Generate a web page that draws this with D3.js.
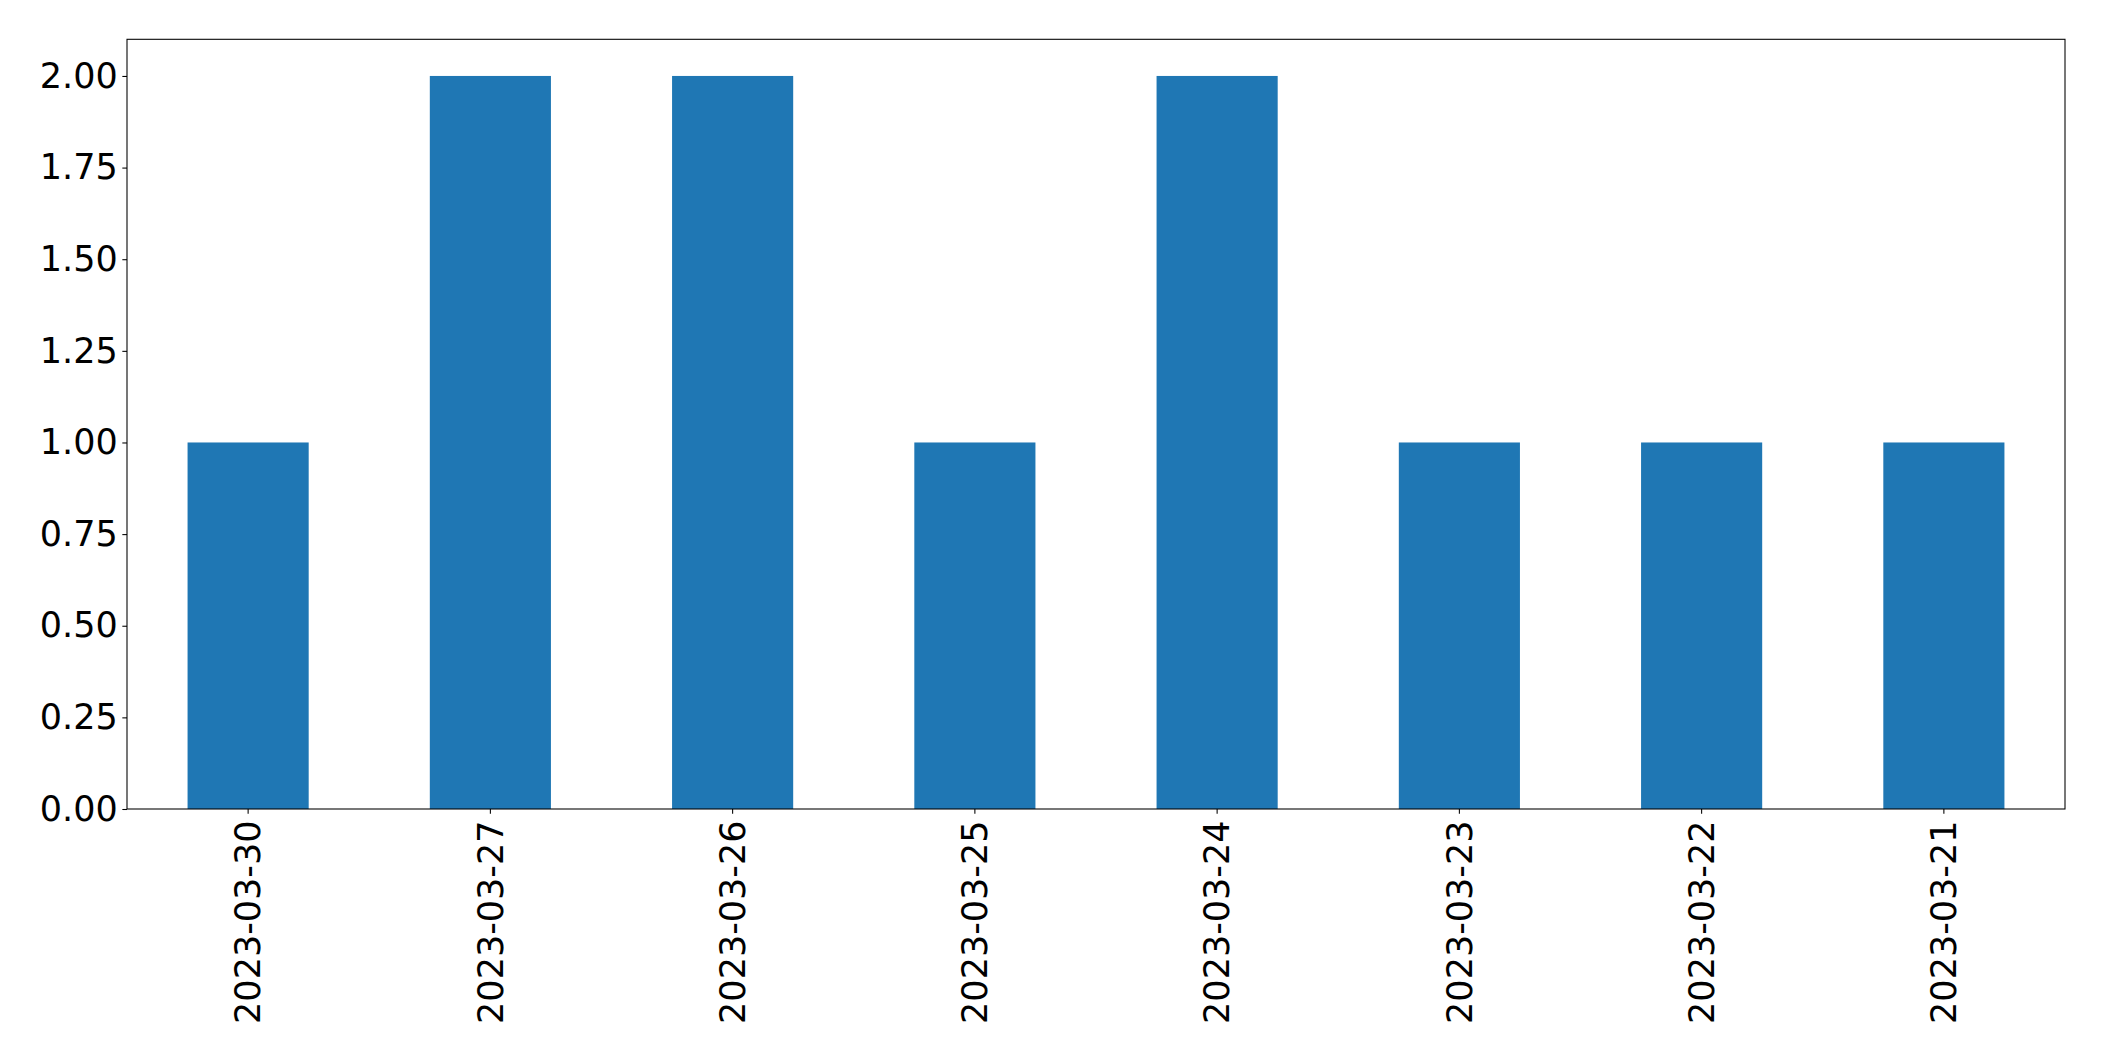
<!DOCTYPE html>
<html><head><meta charset="utf-8">
<script src="https://cdn.jsdelivr.net/npm/d3@7"></script>
<style>body{margin:0;background:#fff;} svg{display:block;}</style>
</head><body>
<script>
const categories = ["2023-03-30","2023-03-27","2023-03-26","2023-03-25","2023-03-24","2023-03-23","2023-03-22","2023-03-21"];
const values = [1,2,2,1,2,1,1,1];
const yTicks = [0,0.25,0.5,0.75,1,1.25,1.5,1.75,2];

const W = 2104, H = 1061;
const mLeft = 127, mRight = 2065, mTop = 39.3, mBottom = 809;
const svg = d3.select("body").append("svg").attr("width", W).attr("height", H);

const x = d3.scaleBand().domain(categories).range([mLeft, mRight]).paddingInner(0.5).paddingOuter(0.25);
const y = d3.scaleLinear().domain([0, 2.1]).range([mBottom, mTop]);

svg.append("g").selectAll("rect").data(values).join("rect")
  .attr("x", (d,i) => x(categories[i]))
  .attr("width", x.bandwidth())
  .attr("y", d => y(d))
  .attr("height", d => y(0) - y(d))
  .attr("fill", "#1f77b4");

const font = "DejaVu Sans";
const fs = 35;

const yAxis = svg.append("g").attr("transform", `translate(${mLeft},0)`)
  .call(d3.axisLeft(y).tickValues(yTicks).tickFormat(d3.format(".2f")).tickSize(4.67).tickPadding(4.67));
yAxis.select(".domain").remove();
yAxis.selectAll("line").attr("stroke", "#000").attr("stroke-width", 1.07);
yAxis.selectAll("text").attr("font-family", font).attr("font-size", fs).attr("fill", "#000");

const xAxis = svg.append("g").attr("transform", `translate(0,${mBottom})`)
  .call(d3.axisBottom(x).tickSize(4.67).tickPadding(4.67));
xAxis.select(".domain").remove();
xAxis.selectAll("line").attr("stroke", "#000").attr("stroke-width", 1.07);
xAxis.selectAll("text")
  .attr("font-family", font).attr("font-size", fs).attr("fill", "#000")
  .attr("transform", "rotate(-90)")
  .attr("text-anchor", "end")
  .attr("x", -11.5).attr("y", 0).attr("dy", "0.35em");

svg.append("rect").attr("x", mLeft).attr("y", mTop).attr("width", mRight-mLeft).attr("height", mBottom-mTop)
  .attr("fill", "none").attr("stroke", "#000").attr("stroke-width", 1.07);
</script>
</body></html>
